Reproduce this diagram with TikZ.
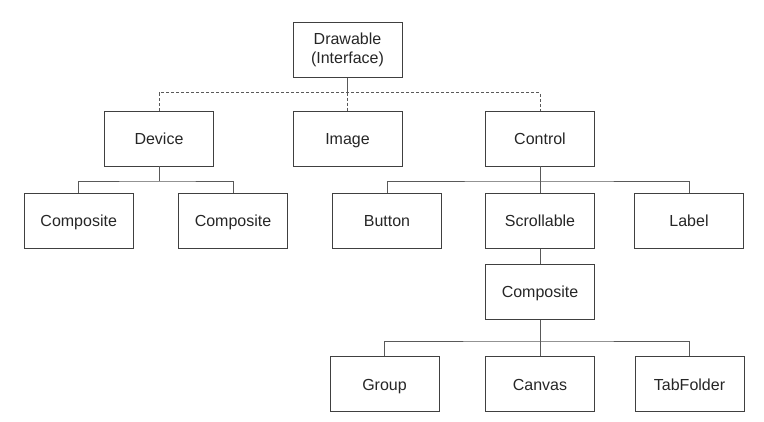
\documentclass[tikz,border=0pt]{standalone}
\usepackage{fontspec}
\setmainfont{Liberation Sans}
\begin{document}
\begin{tikzpicture}[x=1pt,y=-1pt,
  box/.style={draw=black!75,line width=0.8pt,minimum width=109pt,minimum height=55pt,inner sep=0pt,font=\fontsize{16}{19}\selectfont,align=center,text=black!85},
  sbox/.style={box,text height=11.5pt,text depth=0pt},
  conn/.style={draw=black!65,line width=0.8pt},
  dconn/.style={draw=black!65,line width=0.8pt,dash pattern=on 3pt off 2pt}]
\useasboundingbox (0,0) rectangle (764,421);
\node[box] (draw) at (347.5,50) {Drawable\\(Interface)};
\node[sbox] (dev) at (159,138.5) {Device};
\node[sbox] (img) at (347.5,138.5) {Image};
\node[sbox] (ctl) at (540,138.5) {Control};
\node[sbox] (c1) at (78.7,220.7) {Composite};
\node[sbox] (c2) at (233,220.7) {Composite};
\node[sbox] (btn) at (387,220.7) {Button};
\node[sbox] (scr) at (540,220.7) {Scrollable};
\node[sbox] (lab) at (689,220.7) {Label};
\node[sbox] (comp) at (540,291.7) {Composite};
\node[sbox] (grp) at (384.5,384.3) {Group};
\node[sbox] (cnv) at (540,384.3) {Canvas};
\node[sbox] (tab) at (689.5,384.3) {TabFolder};
\coordinate (dj) at (347.5,92.7);
\draw[conn] (draw.south) -- (dj);
\draw[dconn] (dev.north) |- (dj) -| (ctl.north);
\draw[dconn] (dj) -- (img.north);
\coordinate (dvj) at (159,181);
\draw[conn] (dev.south) -- (dvj);
\draw[conn] (c1.north) |- (dvj) -| (c2.north);
\coordinate (cj) at (540,181);
\draw[conn] (ctl.south) -- (scr.north);
\draw[conn] (btn.north) |- (cj) -| (lab.north);
\draw[conn] (scr.south) -- (comp.north);
\coordinate (kj) at (540,341);
\draw[conn] (comp.south) -- (cnv.north);
\draw[conn] (grp.north) |- (kj) -| (tab.north);
\end{tikzpicture}
\end{document}
